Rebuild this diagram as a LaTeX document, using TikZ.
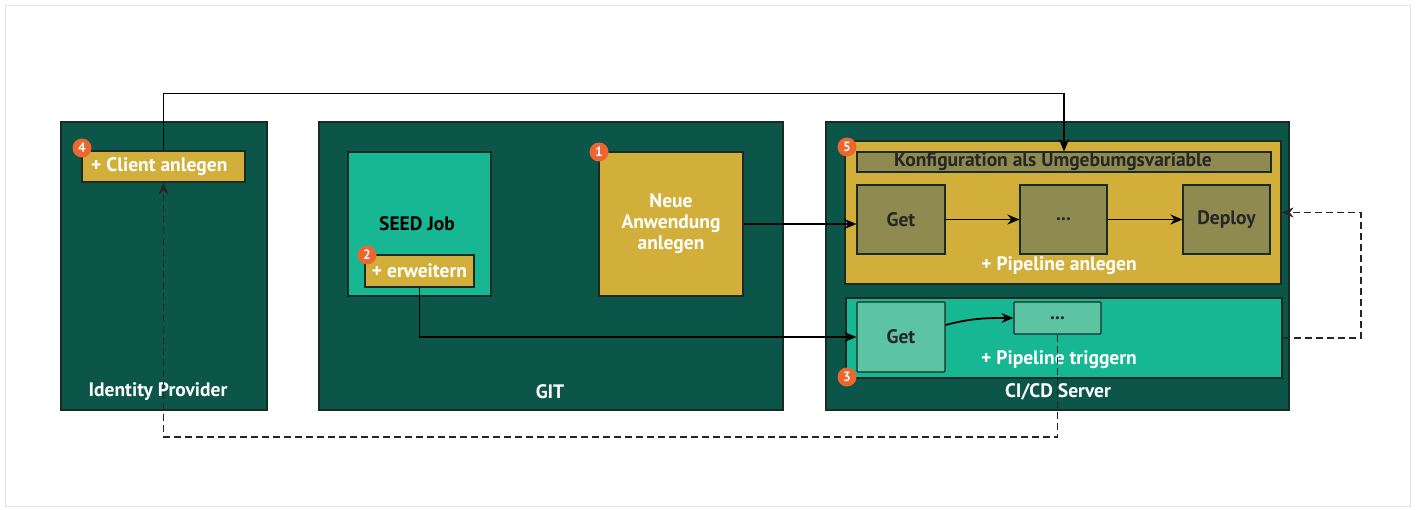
\documentclass[tikz,border=0pt]{standalone}
\usepackage{fontspec}
\setmainfont{PT Sans}
\usetikzlibrary{arrows.meta}
\definecolor{darkteal}{HTML}{0B5549}
\definecolor{gold}{HTML}{D1AF3A}
\definecolor{olive}{HTML}{8F8B50}
\definecolor{teal2}{HTML}{17B794}
\definecolor{lightteal}{HTML}{5CC3A3}
\definecolor{badgeor}{HTML}{EE6530}
\definecolor{edge}{HTML}{1B2A24}
\newcommand{\lblfont}{\bfseries\fontsize{19.5}{21}\selectfont}
\tikzset{
  box/.style={draw=edge, line width=1.2pt, inner sep=0pt, font=\lblfont, align=center},
  outer/.style={box, fill=darkteal},
  goldbox/.style={box, fill=gold, text=white},
  olivebox/.style={box, fill=olive, text=black!85},
  tealbox/.style={box, fill=teal2},
  ltealbox/.style={box, fill=lightteal, text=black!85},
  lbl/.style={text=white, font=\lblfont, inner sep=0pt},
  badge/.style={circle, fill=badgeor, text=white, inner sep=0pt, minimum size=19pt, font=\bfseries\fontsize{13.5}{13.5}\selectfont},
  conn/.style={draw=black, line width=1.8pt, -{Stealth[length=12pt,width=10pt]}},
  dconn/.style={conn, draw=black!85, dash pattern=on 7pt off 4pt, line width=1.8pt},
}
\begin{document}
\begin{tikzpicture}[x=1pt,y=-1pt]
\useasboundingbox (0,0) rectangle (1416,509);
\draw[gray!20, line width=1pt] (5,5) rectangle (1410,506);

% outer containers
\node[outer, minimum width=206pt, minimum height=288pt] (idp) at (164,266) {};
\node[outer, minimum width=464pt, minimum height=288pt] (git) at (551,266) {};
\node[outer, minimum width=463pt, minimum height=288pt] (cicd) at (1057.5,266) {};
\node[lbl] (idplbl) at (158,392) {Identity Provider};
\node[lbl] (gitlbl) at (550,392) {GIT};
\node[lbl] (cicdlbl) at (1058,392) {CI/CD Server};

% Identity provider
\node[goldbox, minimum width=163pt, minimum height=31pt] (client) at (163.5,166.5) {};
\node[lbl, anchor=west] (clienttxt) at (91,166.5) {+ Client anlegen};
\node[badge] (b4) at (82,148) {4};

% GIT
\node[tealbox, minimum width=143pt, minimum height=144pt] (seed) at (419.5,224) {};
\node[text=black, font=\lblfont, inner sep=0pt] (seedtxt) at (417,224) {SEED Job};
\node[goldbox, minimum width=109pt, minimum height=32pt] (erw) at (419.5,271) {+ erweitern};
\node[badge] (b2) at (367,255) {2};
\node[goldbox, minimum width=144pt, minimum height=144pt] (neue) at (671,224) {Neue\\Anwendung\\anlegen};
\node[badge] (b1) at (599,152) {1};

% CI/CD: pipeline anlegen
\node[box, fill=gold, minimum width=436pt, minimum height=143pt] (panl) at (1063,212.5) {};
\node[olivebox, minimum width=414pt, minimum height=20pt] (konf) at (1064,162) {};
\node[text=black!85, font=\lblfont, inner sep=0pt] (konftxt) at (1053,162) {Konfiguration als Umgebumgsvariable};
\node[olivebox, minimum width=88pt, minimum height=69pt] (get1) at (901,219.5) {Get};
\node[olivebox, minimum width=87pt, minimum height=69pt] (dots1) at (1063.5,219.5) {...};
\node[olivebox, minimum width=87pt, minimum height=69pt] (deploy) at (1226.5,219.5) {Deploy};
\node[lbl] (panltxt) at (1059,266) {+ Pipeline anlegen};
\node[badge] (b5) at (847,147) {5};

% CI/CD: pipeline triggern
\node[tealbox, minimum width=436pt, minimum height=80pt] (ptrig) at (1064,338) {};
\node[ltealbox, minimum width=88pt, minimum height=70pt, rounded corners=1pt] (get2) at (901,337) {Get};
\node[ltealbox, minimum width=87pt, minimum height=32pt, rounded corners=1pt] (dots2) at (1057.5,318) {...};
\node[lbl] (ptrigtxt) at (1059,360) {+ Pipeline triggern};
\node[badge] (b3) at (847,377) {3};

% connectors
\draw[conn] (client.north) -- ++(0,-57) -| (konf.north);
\draw[conn] (neue.east) -- (get1.west |- neue.east);
\draw[conn] (get1.east) -- (dots1.west);
\draw[conn] (dots1.east) -- (deploy.west);
\draw[conn] (erw.south) |- (get2.west);
\draw[conn] ([yshift=12pt]get2.east) to[out=15,in=180] (dots2.west);
\draw[dconn] (dots2.south) -- ++(0,102) -| (client.south);
\draw[dconn] (ptrig.east) -- ++(78,0) |- (panl.east);
\end{tikzpicture}
\end{document}
